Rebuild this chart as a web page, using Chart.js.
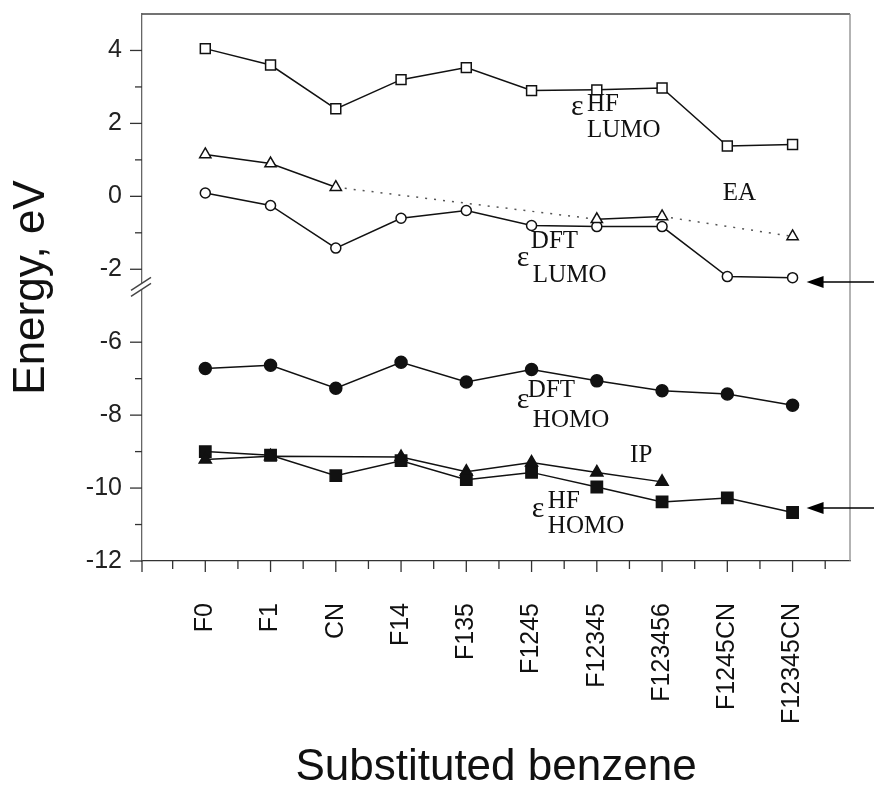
<!DOCTYPE html>
<html>
<head>
<meta charset="utf-8">
<title>Orbital energies of substituted benzenes</title>
<script src="https://cdn.jsdelivr.net/npm/chart.js"></script>
<style>
  html, body { margin: 0; padding: 0; background: #fff; }
</style>
</head>
<body>
<canvas id="levelChart" width="874" height="785"></canvas>
<script>
// molecules along the x axis
const molecules = ['F0', 'F1', 'CN', 'F14', 'F135', 'F1245', 'F12345', 'F123456', 'F1245CN', 'F12345CN'];

// energies in eV (null = no point)
const lumoHF  = [4.05, 3.6, 2.4, 3.2, 3.53, 2.9, 2.92, 2.97, 1.38, 1.42];
const ea      = [1.15, 0.9, 0.25, null, null, null, -0.63, -0.55, null, -1.1];
const lumoDFT = [0.09, -0.25, -1.42, -0.6, -0.39, -0.8, -0.83, -0.83, -2.2, -2.23];
const homoDFT = [-6.72, -6.63, -7.26, -6.55, -7.09, -6.75, -7.06, -7.33, -7.42, -7.73];
const ip      = [-9.22, -9.13, null, -9.15, -9.55, -9.3, -9.57, -9.83, null, null];
const homoHF  = [-9.0, -9.1, -9.66, -9.25, -9.77, -9.57, -9.97, -10.38, -10.27, -10.67];

// y tick labels above and below the axis break
const yTicksTop = [4, 2, 0, -2];
const yTicksBottom = [-6, -8, -10, -12];

// the axis is cut between -2 and -6, the lower part is moved up by 2 eV
const GAP = 2;
const toAxis = e => (e < -3 ? e + GAP : e);
const fromAxis = v => (v < -3 ? v - GAP : v);

const SANS = "'Liberation Sans', Arial, sans-serif";
const SERIF = "'Liberation Serif', 'Times New Roman', serif";

// text labels in the plot: anchor (category index, eV), pieces offset in px
const notes = [
  { x: 5.62, y: 2.23,   parts: [['ε', 0, 0], ['HF', 15, -4], ['LUMO', 15, 22]] },
  { x: 7.93, y: -0.1,   parts: [['EA', 0, 0]] },
  { x: 4.79, y: -1.91,  parts: [['ε', 0, 0], ['DFT', 13, -18], ['LUMO', 15, 16]] },
  { x: 4.79, y: -7.80,  parts: [['ε', 0, 0], ['DFT', 10, -11], ['HOMO', 15, 19]] },
  { x: 6.51, y: -9.28,  parts: [['IP', 0, 0]] },
  { x: 5.02, y: -10.785, parts: [['ε', 0, 0], ['HF', 15, -9], ['HOMO', 15, 16]] }
];
const arrows = [ { x: 9, y: -2.35 }, { x: 9, y: -10.55 } ];

function series(label, values, style) {
  return Object.assign({
    label: label,
    data: values.map((v, i) => ({ x: i, y: v === null ? null : toAxis(v) })),
    borderColor: '#111',
    borderWidth: 1.5,
    pointBorderColor: '#111',
    pointBorderWidth: 1.5,
    tension: 0
  }, style);
}

const skipped = (ctx, value) => (ctx.p0.skip || ctx.p1.skip ? value : undefined);

const extras = {
  id: 'extras',
  afterDraw(chart) {
    const ctx = chart.ctx;
    const xs = chart.scales.x, ys = chart.scales.y;
    const a = chart.chartArea;
    ctx.save();

    // frame top and right
    ctx.lineWidth = 1.3;
    ctx.strokeStyle = '#444';
    ctx.beginPath(); ctx.moveTo(a.left, a.top); ctx.lineTo(a.right, a.top); ctx.stroke();
    ctx.strokeStyle = '#8a8a8a';
    ctx.beginPath(); ctx.moveTo(a.right, a.top); ctx.lineTo(a.right, a.bottom); ctx.stroke();

    // tick marks
    ctx.strokeStyle = '#333';
    ctx.lineWidth = 1.3;
    const xMajor = molecules.map((m, i) => i).concat([xs.min]);
    const xMinor = molecules.map((m, i) => i - 0.5).concat([molecules.length - 0.5]);
    xMajor.forEach(v => { const p = xs.getPixelForValue(v); ctx.beginPath(); ctx.moveTo(p, a.bottom); ctx.lineTo(p, a.bottom + 11); ctx.stroke(); });
    xMinor.forEach(v => { const p = xs.getPixelForValue(v); ctx.beginPath(); ctx.moveTo(p, a.bottom); ctx.lineTo(p, a.bottom + 8); ctx.stroke(); });
    const yMajor = yTicksTop.concat(yTicksBottom);
    const yMinor = [3, 1, -1, -7, -9, -11];
    yMajor.forEach(v => { const p = ys.getPixelForValue(toAxis(v)); ctx.beginPath(); ctx.moveTo(a.left - 12, p); ctx.lineTo(a.left, p); ctx.stroke(); });
    yMinor.forEach(v => { const p = ys.getPixelForValue(toAxis(v)); ctx.beginPath(); ctx.moveTo(a.left - 7, p); ctx.lineTo(a.left, p); ctx.stroke(); });

    // axis break
    const yb = ys.getPixelForValue(-2.47);
    ctx.fillStyle = '#fff';
    ctx.fillRect(a.left - 2, yb - 3, 4, 6);
    ctx.strokeStyle = '#444';
    ctx.lineWidth = 1.4;
    [-3, 3].forEach(d => {
      ctx.beginPath(); ctx.moveTo(a.left - 11, yb + d + 7); ctx.lineTo(a.left + 9, yb + d - 6); ctx.stroke();
    });

    // labels inside the plot (the epsilon a bit larger than the indices)
    ctx.fillStyle = '#111';
    ctx.textAlign = 'left';
    ctx.textBaseline = 'alphabetic';
    notes.forEach(n => {
      const px = xs.getPixelForValue(n.x), py = ys.getPixelForValue(toAxis(n.y));
      n.parts.forEach(p => {
        ctx.font = (p[0] === 'ε' ? '30px ' : '25px ') + SERIF;
        ctx.fillText(p[0], px + p[1] - (p[0] === 'ε' ? 1 : 0), py + p[2]);
      });
    });

    // arrows from the right edge
    ctx.strokeStyle = '#000';
    ctx.fillStyle = '#000';
    ctx.lineWidth = 1.5;
    arrows.forEach(r => {
      const tip = xs.getPixelForValue(r.x) + 14;
      const py = ys.getPixelForValue(toAxis(r.y));
      ctx.beginPath(); ctx.moveTo(tip + 10, py); ctx.lineTo(chart.width, py); ctx.stroke();
      ctx.beginPath(); ctx.moveTo(tip, py); ctx.lineTo(tip + 17, py - 6); ctx.lineTo(tip + 17, py + 6); ctx.closePath(); ctx.fill();
    });
    ctx.restore();
  }
};

new Chart(document.getElementById('levelChart').getContext('2d'), {
  type: 'line',
  data: {
    datasets: [
      series('HF LUMO', lumoHF, { pointStyle: 'rect', pointRadius: 7, pointBackgroundColor: '#fff' }),
      series('EA', ea, {
        pointStyle: 'triangle', pointRadius: 6.5, pointBackgroundColor: '#fff', spanGaps: true,
        segment: {
          borderDash: ctx => skipped(ctx, [2, 7]),
          borderColor: ctx => skipped(ctx, '#555')
        }
      }),
      series('DFT LUMO', lumoDFT, { pointStyle: 'circle', pointRadius: 5, pointBackgroundColor: '#fff' }),
      series('DFT HOMO', homoDFT, { pointStyle: 'circle', pointRadius: 6, pointBackgroundColor: '#111' }),
      series('IP', ip, { pointStyle: 'triangle', pointRadius: 7, pointBackgroundColor: '#111', spanGaps: true }),
      series('HF HOMO', homoHF, { pointStyle: 'rect', pointRadius: 8, pointBackgroundColor: '#111' })
    ]
  },
  options: {
    responsive: false,
    animation: false,
    layout: { padding: { top: 14, right: 24, left: 0, bottom: 0 } },
    plugins: { legend: { display: false }, tooltip: { enabled: false } },
    scales: {
      x: {
        type: 'linear',
        min: -0.97,
        max: 9.88,
        afterBuildTicks: s => { s.ticks = molecules.map((m, i) => ({ value: i })); },
        afterFit: s => { s.height = 224; },
        grid: { display: false, drawTicks: true, tickLength: 40 },
        border: { display: true, color: '#333', width: 1.3 },
        ticks: {
          autoSkip: false, maxRotation: 90, minRotation: 90, padding: 2, color: '#111',
          font: { family: SANS, size: 25 },
          callback: v => molecules[v]
        },
        title: {
          display: true, text: 'Substituted benzene', color: '#111',
          font: { family: SANS, size: 44, lineHeight: 0.8 },
          padding: { top: 0, bottom: 0 }
        }
      },
      y: {
        type: 'linear',
        min: -10,
        max: 5,
        afterBuildTicks: s => { s.ticks = yTicksTop.concat(yTicksBottom).map(v => ({ value: toAxis(v) })); },
        afterFit: s => { s.width = 142; },
        grid: { display: false, drawTicks: true, tickLength: 18 },
        border: { display: true, color: '#666', width: 1.3 },
        ticks: {
          padding: 2, color: '#222',
          font: { family: SANS, size: 25, lineHeight: 0.9 },
          callback: v => String(fromAxis(v))
        },
        title: {
          display: true, text: 'Energy, eV', color: '#111',
          font: { family: SANS, size: 44, lineHeight: 0.8 },
          padding: { top: 14, bottom: 0 }
        }
      }
    }
  },
  plugins: [extras]
});
</script>
</body>
</html>
